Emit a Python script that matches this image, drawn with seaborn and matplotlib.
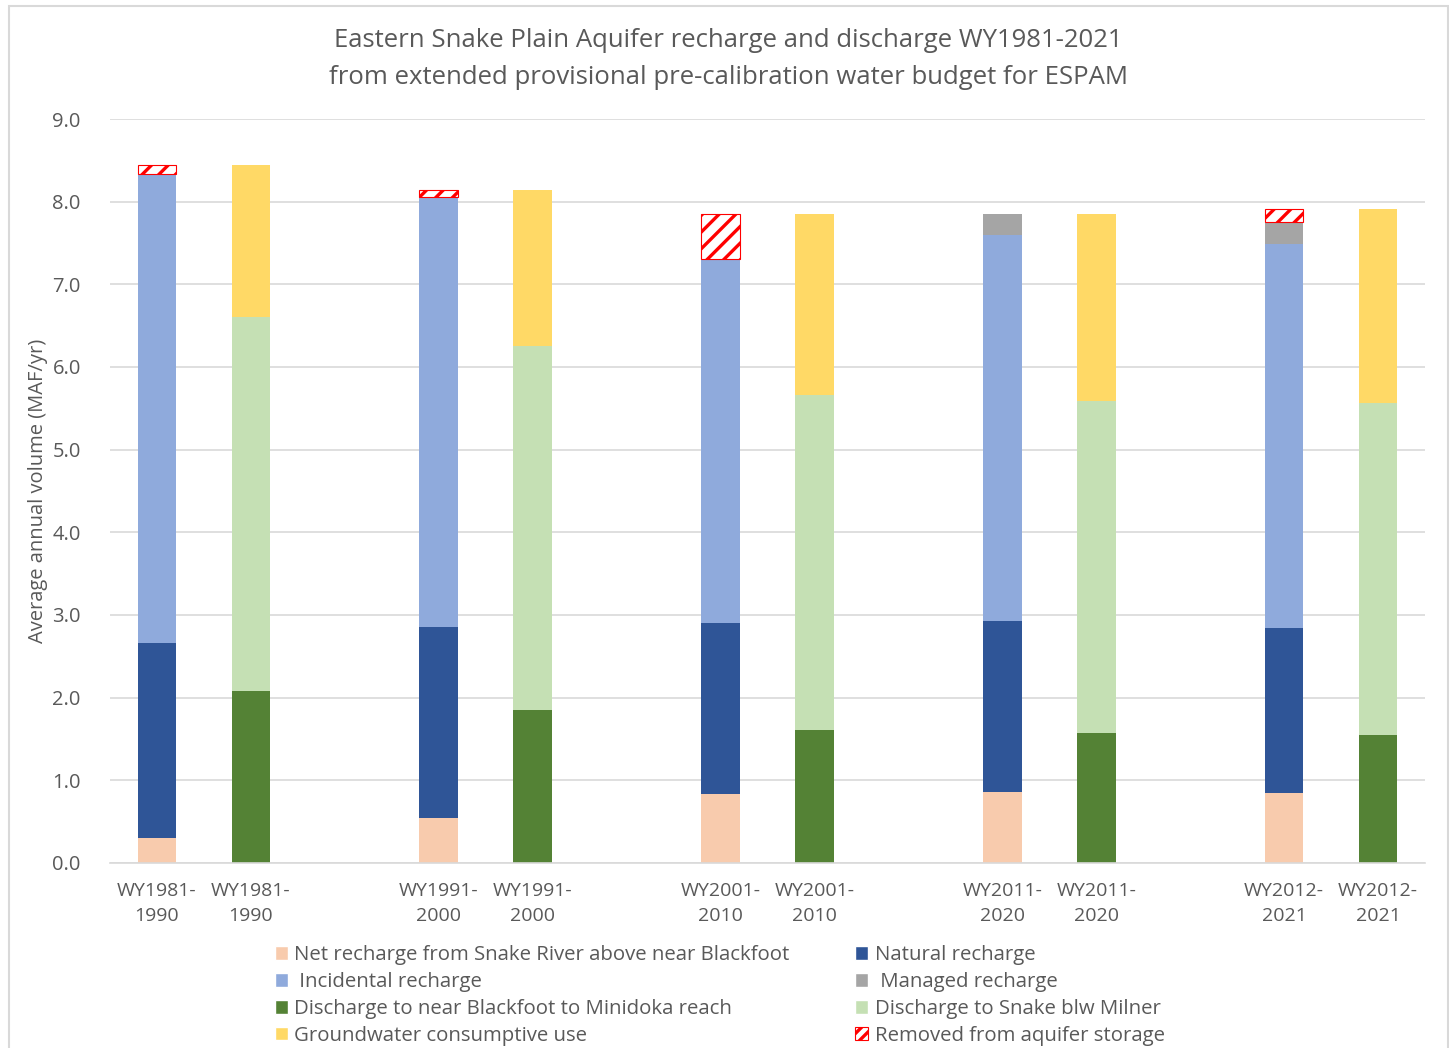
import matplotlib
matplotlib.use("Agg")
import matplotlib.pyplot as plt
from matplotlib.patches import Patch, Rectangle
import numpy as np
import pandas as pd
import seaborn as sns

# Averaging periods (water years)
periods = ["WY1981-\n1990", "WY1991-\n2000", "WY2001-\n2010", "WY2011-\n2020", "WY2012-\n2021"]

# Recharge components (MAF/yr)
net_recharge_blackfoot = [0.30, 0.54, 0.83, 0.86, 0.85]
natural_recharge = [2.36, 2.31, 2.07, 2.07, 1.99]
incidental_recharge = [5.67, 5.21, 4.41, 4.67, 4.65]
managed_recharge = [0.00, 0.00, 0.00, 0.25, 0.26]
removed_from_storage = [0.11, 0.08, 0.54, 0.00, 0.16]

# Discharge components (MAF/yr)
discharge_blackfoot_minidoka = [2.08, 1.85, 1.61, 1.57, 1.55]
discharge_blw_milner = [4.52, 4.40, 4.05, 4.02, 4.01]
gw_consumptive_use = [1.84, 1.89, 2.19, 2.26, 2.35]

yticks = [0.0, 1.0, 2.0, 3.0, 4.0, 5.0, 6.0, 7.0, 8.0, 9.0]

colors = {
    "net": "#F8CBAD",
    "natural": "#2F5597",
    "incidental": "#8FAADC",
    "managed": "#A5A5A5",
    "dgreen": "#548235",
    "lgreen": "#C5E0B4",
    "yellow": "#FFD966",
    "red": "#FF0000",
}

sns.set_theme(style="whitegrid")
plt.rcParams["font.family"] = ["Open Sans", "DejaVu Sans"]
plt.rcParams["hatch.color"] = colors["red"]
plt.rcParams["hatch.linewidth"] = 2.4

text_color = "#595959"

# Long table: one row per period / side / component
rows = []
for i, p in enumerate(periods):
    rec = [("net", net_recharge_blackfoot[i]), ("natural", natural_recharge[i]),
           ("incidental", incidental_recharge[i]), ("managed", managed_recharge[i]),
           ("removed", removed_from_storage[i])]
    dis = [("dgreen", discharge_blackfoot_minidoka[i]), ("lgreen", discharge_blw_milner[i]),
           ("yellow", gw_consumptive_use[i])]
    for comp, v in rec:
        rows.append(dict(period=p, slot=3 * i, component=comp, value=v))
    for comp, v in dis:
        rows.append(dict(period=p, slot=3 * i + 1, component=comp, value=v))
df = pd.DataFrame(rows)
df["bottom"] = df.groupby("slot")["value"].cumsum() - df["value"]

fig = plt.figure(figsize=(14.49, 10.48), dpi=100)
ax = fig.add_axes([110 / 1449, 1 - 863 / 1048, (1425 - 110) / 1449, (863 - 119) / 1048])

bar_w = 0.41
for _, r in df.iterrows():
    if r["value"] <= 0:
        continue
    if r["component"] == "removed":
        ax.bar(r["slot"], r["value"], bottom=r["bottom"], width=bar_w,
               color="white", edgecolor=colors["red"], hatch="//", linewidth=0.8, zorder=3)
    else:
        ax.bar(r["slot"], r["value"], bottom=r["bottom"], width=bar_w,
               color=colors[r["component"]], linewidth=0, zorder=3)

n_slots = 3 * len(periods) - 1
ax.set_xlim(-0.5, n_slots - 0.5)
ax.set_ylim(0, 9.0)
ticks = [3 * i for i in range(len(periods))] + [3 * i + 1 for i in range(len(periods))]
labels = periods + periods
ax.set_xticks(ticks)
ax.set_xticklabels(labels, fontsize=14, color=text_color, linespacing=1.5)
ax.set_yticks(yticks)
ax.set_yticklabels([f"{t:.1f}" for t in yticks], fontsize=14.5, color=text_color)
ax.tick_params(axis="x", length=0, pad=14)
ax.tick_params(axis="y", length=0, pad=21)
ax.grid(axis="x", visible=False)
ax.grid(axis="y", color="#D9D9D9", linewidth=1.2)
for s in ["left", "right", "top"]:
    ax.spines[s].set_visible(False)
ax.spines["bottom"].set_color("#D9D9D9")
ax.spines["bottom"].set_linewidth(1.2)
ax.spines["bottom"].set_zorder(4)

ax.set_ylabel("Average annual volume (MAF/yr)", fontsize=14.5, color=text_color)
ax.yaxis.set_label_coords(-62 / 1315, 0.5)

fig.text(0.5025, 1 - 59 / 1048,
         "Eastern Snake Plain Aquifer recharge and discharge WY1981-2021\n"
         "from extended provisional pre-calibration water budget for ESPAM",
         ha="center", va="center", fontsize=18.5, color=text_color, linespacing=1.58)

# Legend, filled column by column
handles = [
    Patch(facecolor=colors["net"], label="Net recharge from Snake River above near Blackfoot"),
    Patch(facecolor=colors["incidental"], label=" Incidental recharge"),
    Patch(facecolor=colors["dgreen"], label="Discharge to near Blackfoot to Minidoka reach"),
    Patch(facecolor=colors["yellow"], label="Groundwater consumptive use"),
    Patch(facecolor=colors["natural"], label="Natural recharge"),
    Patch(facecolor=colors["managed"], label=" Managed recharge"),
    Patch(facecolor=colors["lgreen"], label="Discharge to Snake blw Milner"),
    Patch(facecolor="white", edgecolor=colors["red"], hatch="///", linewidth=0.8,
          label="Removed from aquifer storage"),
]
leg = fig.legend(handles=handles, loc="upper left", bbox_to_anchor=(275 / 1449, 1 - 945 / 1048),
                 ncol=2, frameon=False, fontsize=14.7, handlelength=0.65, handleheight=0.65,
                 handletextpad=0.3, labelspacing=0.34, columnspacing=3.2, borderpad=0,
                 borderaxespad=0)
for t in leg.get_texts():
    t.set_color(text_color)

# Chart area border
fig.patches.append(Rectangle((8.5 / 1449, -0.05), (1447.5 - 8.5) / 1449, 1.05 - 5.5 / 1048,
                             transform=fig.transFigure, fill=False,
                             edgecolor="#D9D9D9", linewidth=1.5))

fig.savefig("out.png", dpi=100, facecolor="white")
